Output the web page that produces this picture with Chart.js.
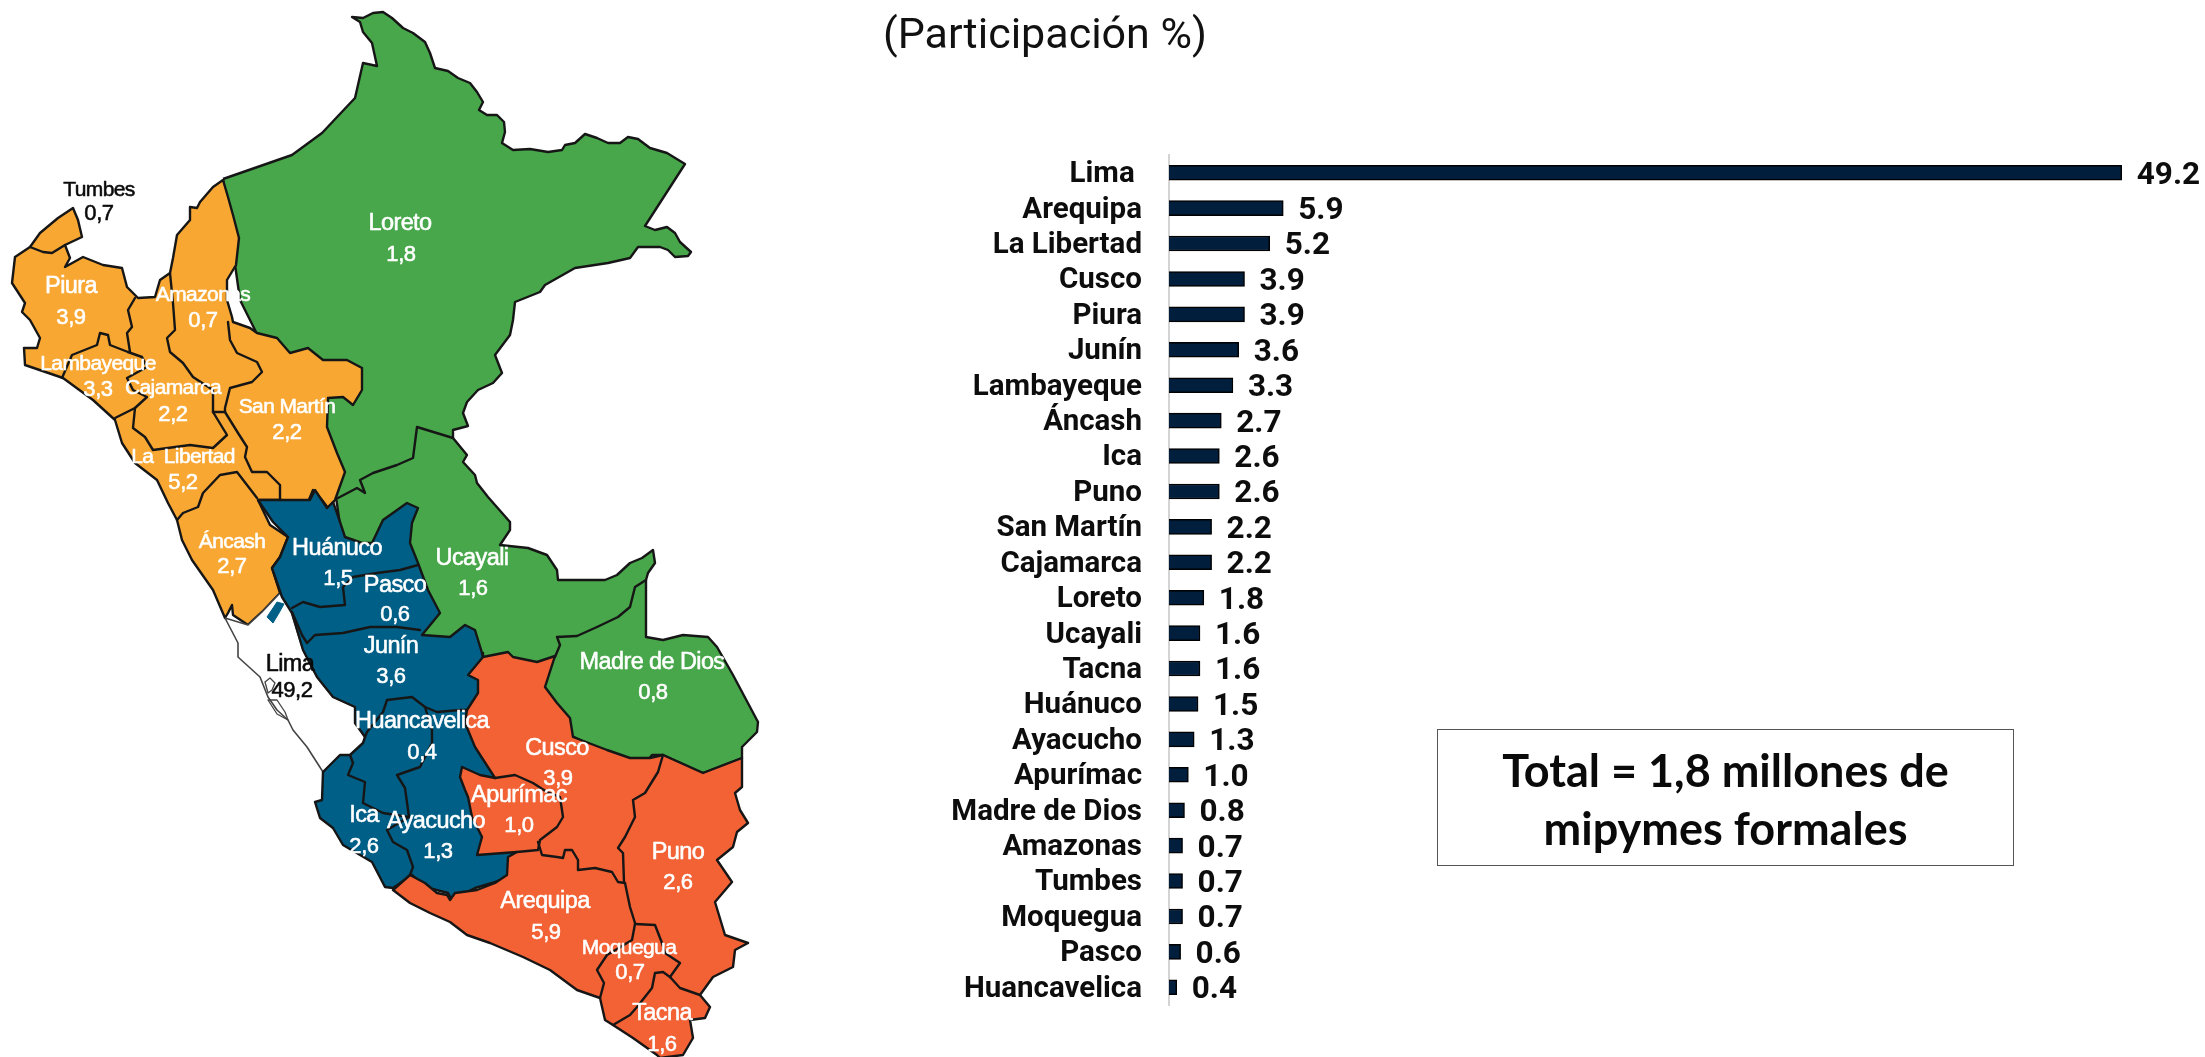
<!DOCTYPE html>
<html lang="es"><head><meta charset="utf-8"><title>Mipymes formales por región</title>
<script src="https://cdn.jsdelivr.net/npm/chart.js@4"></script>
<style>
html,body{margin:0;padding:0;background:#fff;width:2205px;height:1057px;overflow:hidden}
canvas{position:absolute;display:block}
#map{left:0;top:0;filter:blur(.55px)}
#bars{left:900px;top:0}
#sub{position:absolute;left:745px;width:600px;top:8px;text-align:center;font:400 43px/50px Roboto,sans-serif;color:#111}
#total{position:absolute;left:1437px;top:729px;width:577px;height:137px;box-sizing:border-box;border:1.5px solid #555;text-align:center;font:700 45px/58px Lato,sans-serif;color:#0a0a0a;padding-top:11px}
</style></head><body>
<canvas id="map" width="900" height="1057"></canvas>
<canvas id="bars" width="1305" height="1057"></canvas>
<div id="sub">(Participación %)</div>
<div id="total">Total = 1,8 millones de<br>mipymes formales</div>
<script>
// ---- bar data ----
const regions=['Lima ','Arequipa','La Libertad','Cusco','Piura','Junín','Lambayeque','Áncash','Ica','Puno','San Martín','Cajamarca','Loreto','Ucayali','Tacna','Huánuco','Ayacucho','Apurímac','Madre de Dios','Amazonas','Tumbes','Moquegua','Pasco','Huancavelica'];
const shares=[49.2,5.9,5.2,3.9,3.9,3.6,3.3,2.7,2.6,2.6,2.2,2.2,1.8,1.6,1.6,1.5,1.3,1.0,0.8,0.7,0.7,0.7,0.6,0.4];

// ---- map outlines, in map units ----
const greenOutline=[[223,179],[292,155],[322,133],[355,98],[363,63],[377,66],[372,43],[363,32],[360,22],[352,17],[363,18],[373,13],[383,12],[392,18],[403,28],[413,33],[425,42],[430,53],[435,68],[448,71],[458,78],[470,83],[477,92],[483,102],[479,110],[487,115],[497,115],[504,122],[505,132],[502,143],[513,150],[530,149],[548,152],[562,150],[565,145],[575,143],[585,134],[597,138],[608,143],[620,143],[628,137],[638,139],[650,148],[667,153],[685,164],[645,226],[655,230],[667,227],[675,233],[680,242],[691,252],[688,256],[675,257],[668,250],[660,247],[638,247],[630,258],[608,263],[575,268],[545,285],[540,292],[515,302],[513,320],[510,335],[495,355],[502,373],[493,383],[478,390],[467,402],[463,413],[468,426],[453,430],[453,438],[467,455],[463,462],[475,475],[477,483],[488,497],[510,522],[510,530],[500,545],[528,548],[547,555],[557,570],[558,580],[605,580],[617,575],[630,563],[642,558],[653,550],[655,563],[648,573],[646,580],[646,637],[663,640],[683,635],[708,637],[717,647],[733,675],[758,722],[757,732],[742,747],[742,758],[703,773],[663,755],[652,755],[640,770],[500,700],[440,660],[345,560],[335,490],[290,400],[240,300]];
const orangeOutline=[[223,180],[228,197],[233,215],[239,238],[236,265],[227,280],[227,300],[232,317],[233,322],[250,328],[257,333],[277,338],[290,353],[308,348],[323,360],[347,360],[362,368],[362,390],[353,405],[343,397],[328,398],[327,427],[337,453],[345,472],[335,500],[328,508],[322,500],[313,490],[308,502],[280,500],[258,500],[270,525],[288,537],[280,557],[272,568],[280,593],[262,612],[248,625],[233,615],[232,605],[228,613],[225,618],[213,590],[192,560],[182,540],[177,520],[168,503],[157,480],[135,463],[122,443],[115,420],[93,400],[63,378],[25,365],[24,348],[37,348],[40,338],[30,320],[22,312],[25,303],[12,283],[15,257],[30,247],[40,233],[58,218],[73,208],[78,220],[82,237],[65,245],[70,258],[65,267],[83,257],[103,265],[122,268],[127,287],[138,298],[155,297],[160,280],[170,273],[173,258],[177,235],[190,220],[190,207],[197,208],[200,202],[213,187]];
const limaOutline=[[225,618],[248,625],[262,612],[280,593],[290,608],[303,650],[317,677],[333,697],[355,707],[355,723],[365,737],[363,743],[350,755],[340,755],[323,772],[307,747],[293,730],[288,720],[277,710],[268,697],[260,677],[238,657],[238,643]];
const blueOutline=[[258,500],[282,500],[310,500],[315,490],[327,508],[333,502],[337,513],[345,537],[362,543],[372,543],[383,520],[407,503],[418,508],[412,523],[410,543],[418,563],[428,590],[440,613],[422,635],[450,637],[465,625],[475,630],[482,653],[483,658],[495,700],[500,790],[520,850],[510,860],[508,877],[492,883],[475,888],[452,900],[448,893],[425,887],[412,875],[393,888],[385,887],[372,862],[343,845],[333,828],[320,818],[315,802],[322,800],[323,772],[340,755],[350,755],[363,743],[365,737],[355,723],[355,707],[333,697],[317,677],[303,650],[292,613],[282,597],[272,568],[280,557],[288,537],[273,522]];
const blueIsland=[[267,617],[277,602],[284,604],[279,613],[273,623]];
const redOutline=[[483,657],[508,652],[513,657],[537,662],[555,656],[545,687],[557,703],[570,718],[573,737],[607,750],[630,758],[650,758],[663,755],[703,773],[742,758],[742,787],[735,793],[740,810],[748,823],[737,832],[733,847],[717,860],[732,882],[715,902],[725,935],[748,943],[735,950],[733,967],[713,977],[700,995],[710,1007],[705,1018],[690,1020],[693,1038],[683,1055],[660,1058],[657,1055],[633,1038],[613,1025],[605,1020],[600,998],[577,990],[550,970],[523,957],[490,943],[467,935],[450,922],[430,913],[410,903],[393,890],[410,875],[425,883],[437,893],[447,895],[450,900],[455,893],[477,890],[495,883],[507,875],[508,857],[517,852],[477,855],[482,837],[472,817],[468,797],[465,790],[460,777],[462,767],[480,775],[495,778],[475,747],[465,723],[467,710],[478,693],[478,680],[468,675]];

// ---- interior boundaries ----
const innerBorders=[
 [[453,438],[417,427],[413,458],[397,465],[373,473],[360,480],[365,493],[357,488],[338,498]],
 [[646,580],[635,587],[630,607],[618,617],[597,627],[577,636],[557,637],[560,645],[555,657]],
 [[30,247],[43,252],[52,253],[65,245]],
 [[62,378],[72,355],[97,345],[100,333],[108,335],[110,345],[128,352]],
 [[135,298],[128,310],[132,327],[127,333],[130,352]],
 [[128,352],[142,357],[147,367],[127,378],[133,390],[147,397],[135,408],[115,418]],
 [[170,273],[173,303],[175,330],[167,338],[170,352],[183,363],[193,377],[213,390],[213,412]],
 [[228,322],[230,340],[237,353],[257,362],[262,372],[252,382],[230,388],[225,408],[225,412],[213,412]],
 [[135,408],[133,428],[145,437],[153,450],[190,445],[213,448],[227,435],[213,412]],
 [[225,412],[238,433],[247,447],[245,457],[252,472],[267,472],[280,485],[280,500]],
 [[177,520],[183,513],[198,507],[203,493],[220,475],[237,472],[257,498]],
 [[418,565],[400,570],[377,573],[353,577],[343,587],[345,605],[320,607],[303,602],[292,608]],
 [[292,612],[302,635],[307,643],[315,635],[343,633],[370,627],[397,627],[420,630]],
 [[365,737],[367,732],[383,712],[387,700],[412,697],[425,707],[437,712],[460,710],[467,710]],
 [[425,707],[432,730],[432,743],[420,767],[397,775],[405,788],[409,817]],
 [[350,755],[353,763],[348,775],[365,782],[363,803],[383,813],[409,817]],
 [[409,817],[387,830],[393,842],[407,850],[413,867],[410,875]],
 [[495,778],[515,775],[533,783],[547,792],[560,797],[563,817],[557,827],[540,840],[538,850],[517,852]],
 [[538,842],[542,855],[557,857],[563,858],[565,850],[572,850],[578,860],[578,870],[595,868],[612,872],[618,882],[625,883]],
 [[663,755],[658,772],[645,793],[633,800],[635,817],[625,837],[618,848],[623,853],[624,882],[625,883],[630,907],[635,923]],
 [[635,924],[655,925],[662,943],[665,953],[680,963],[670,977]],
 [[635,924],[632,940],[607,955],[597,970],[604,983],[600,998]],
 [[670,977],[663,972],[655,973],[652,988],[637,1007],[630,1015],[613,1025]],
 [[670,977],[680,988],[700,995]]
];
const limaIslets=[[[265,682],[270,678],[275,683],[272,690],[268,693],[265,682]],[[268,700],[277,700],[285,712],[288,720],[277,714],[268,700]]];

// ---- map labels ----
const mapNames=['Tumbes','Piura','Amazonas','Lambayeque','Cajamarca','San Martín','La  Libertad','Áncash','Loreto','Huánuco','Pasco','Ucayali','Lima','Junín','Huancavelica','Ica','Ayacucho','Madre de Dios','Cusco','Apurímac','Puno','Arequipa','Moquegua','Tacna'];
const nameAnchors=[[99,190],[71,287],[203,295],[98,364],[173,388],[287,407],[183,457],[232,542],[400,224],[337,549],[395,586],[472,559],[290,665],[391,647],[422,722],[364,816],[436,822],[652,663],[557,749],[519,796],[678,853],[545,902],[629,948],[662,1014]];
const valueAnchors=[[99,214],[71,318],[203,321],[98,390],[173,415],[287,433],[183,483],[232,567],[401,255],[338,579],[395,615],[473,589],[292,691],[391,677],[422,753],[364,847],[438,852],[653,693],[558,779],[519,826],[678,883],[546,933],[630,973],[662,1045]];
const darkLabels=['Tumbes','Lima'];
const narrowLabels=['Tumbes','Amazonas','Lambayeque','Cajamarca','San Martín','La  Libertad','Áncash','Moquegua'];

// ---- colours ----
const GREEN='#47A74A',ORANGE='#F9A733',BLUE='#005F86',RED='#F26235',BAR='#011F3D',INK='#161616';

const pts=a=>a.map(([x,y])=>({x,y}));
const closed=a=>pts([...a,a[0]]);
const shape=(a,fill,stroke,w)=>({data:closed(a),showLine:true,fill:'shape',backgroundColor:fill,borderColor:stroke,borderWidth:w,pointRadius:0,tension:0,borderJoinStyle:'round',clip:false});
const wire=(a,stroke,w)=>({data:pts(a),showLine:true,fill:false,borderColor:stroke,borderWidth:w,pointRadius:0,tension:0,borderJoinStyle:'round',borderCapStyle:'round',clip:false});

// painted back to front, then reversed because Chart.js draws the first dataset last
const layers=[
 shape(greenOutline,GREEN,INK,2.4),
 shape(orangeOutline,ORANGE,INK,2.4),
 shape(limaOutline,'#ffffff','#444',1.6),
 ...limaIslets.map(a=>wire(a,'#444',1.3)),
 shape(blueOutline,BLUE,INK,2.4),
 shape(blueIsland,BLUE,BLUE,1),
 shape(redOutline,RED,INK,2.4),
 ...innerBorders.map(a=>wire(a,INK,2.4))
].reverse();

const share=n=>shares[regions.findIndex(r=>r.trim()===n.replace(/\s+/g,' '))];
const mapLabelPlugin={id:'mapLabels',afterDatasetsDraw(c){
 const {ctx,scales:{x,y}}=c;ctx.save();ctx.textAlign='center';ctx.textBaseline='middle';ctx.lineJoin='round';ctx.lineWidth=.55;
 const put=(t,a)=>{const px=x.getPixelForValue(a[0]),py=y.getPixelForValue(a[1]);ctx.fillText(t,px,py);ctx.strokeText(t,px,py);};
 mapNames.forEach((n,i)=>{
  const col=darkLabels.includes(n)?'#0a0a0a':'#ffffff';
  ctx.fillStyle=col;ctx.strokeStyle=col;
  ctx.font=(narrowLabels.includes(n)?'400 21px':'400 23.5px')+' "Liberation Sans",sans-serif';
  ctx.letterSpacing='-0.6px';
  put(n,nameAnchors[i]);
  ctx.font='400 22px "Liberation Sans",sans-serif';
  ctx.letterSpacing='-0.4px';
  put(share(n).toFixed(1).replace('.',','),valueAnchors[i]);
 });
 ctx.restore();
}};
new Chart(document.getElementById('map'),{type:'scatter',data:{datasets:layers},plugins:[mapLabelPlugin],options:{
 responsive:false,animation:false,events:[],layout:{padding:0},
 plugins:{legend:{display:false},tooltip:{enabled:false}},
 scales:{x:{type:'linear',min:0,max:900,display:false},y:{type:'linear',min:0,max:1057,reverse:true,display:false}}
}});

const barTextPlugin={id:'barText',afterDatasetsDraw(c){
 const {ctx}=c,m=c.getDatasetMeta(0),ys=c.scales.y;ctx.save();ctx.fillStyle='#0d0d0d';ctx.textBaseline='middle';
 ctx.font='700 29.5px Roboto,sans-serif';ctx.textAlign='right';
 regions.forEach((r,i)=>ctx.fillText(r,ys.right-27,ys.getPixelForTick(i)+2));
 ctx.font='700 31.5px Roboto,sans-serif';ctx.textAlign='left';
 m.data.forEach((b,i)=>ctx.fillText(shares[i].toFixed(1),b.x+15,b.y+3));
 ctx.restore();
}};
new Chart(document.getElementById('bars'),{type:'bar',data:{labels:regions,datasets:[{data:shares,backgroundColor:BAR,borderColor:'#000',borderWidth:1.5,barThickness:15}]},plugins:[barTextPlugin],options:{
 indexAxis:'y',responsive:false,animation:false,events:[],
 layout:{padding:{top:155,bottom:52,left:0,right:0}},
 plugins:{legend:{display:false},tooltip:{enabled:false}},
 scales:{
  x:{type:'linear',min:0,max:53.5,display:false},
  y:{afterFit(s){s.width=269},grid:{display:false},border:{display:true,color:'#d4d4d4',width:2},
     ticks:{display:false,autoSkip:false}}
 }
}});
</script></body></html>
